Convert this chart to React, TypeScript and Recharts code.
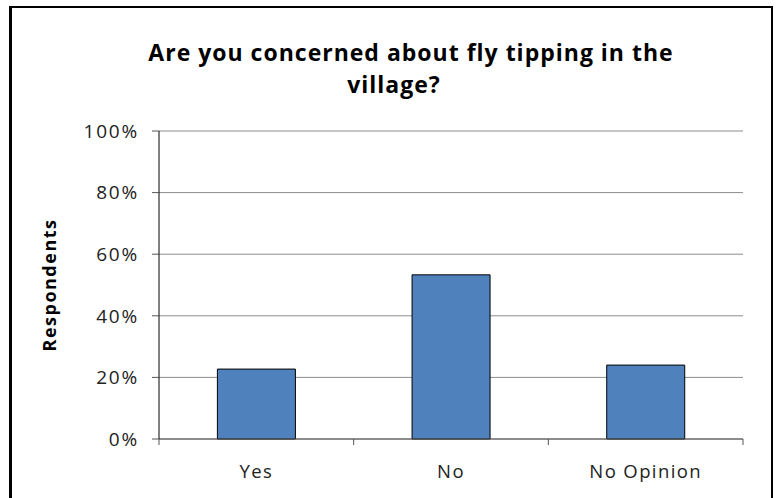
import React from 'react';
import { BarChart, Bar, XAxis, YAxis, CartesianGrid, Label } from 'recharts';

const titleLines = ['Are you concerned about fly tipping in the', 'village?'];
const categories = ['Yes', 'No', 'No Opinion'];
const respondents = [0.227, 0.533, 0.24];
const yTicks = [0, 0.2, 0.4, 0.6, 0.8, 1];
const yAxisTitle = 'Respondents';

const data = categories.map((c, i) => ({ category: c, value: respondents[i] }));

const FONT = '"Open Sans", sans-serif';

function CatTick(props: any) {
  const { x, y, payload, index, visibleTicksCount } = props;
  const half = payload && typeof payload.offset === 'number' && payload.offset > 0 ? payload.offset : 584 / 6;
  const isLast = index === (visibleTicksCount ?? categories.length) - 1;
  return (
    <g>
      <line x1={x - half} y1={y} x2={x - half} y2={y + 6} stroke="#555" strokeWidth={1} />
      {isLast && <line x1={x + half} y1={y} x2={x + half} y2={y + 6} stroke="#555" strokeWidth={1} />}
      <text
        x={x}
        y={y + 39}
        textAnchor="middle"
        fontFamily={FONT}
        fontSize={18.5}
        letterSpacing={1.4}
        fill="#222"
      >
        {payload.value}
      </text>
    </g>
  );
}

export default function App() {
  return (
    <div
      style={{
        position: 'absolute',
        left: 0,
        top: 0,
        width: 778,
        height: 498,
        overflow: 'hidden',
        background: '#fff',
      }}
    >
      <div
        style={{
          position: 'absolute',
          left: 9,
          top: 6,
          width: 759,
          height: 490,
          borderLeft: '3px solid #000',
          borderTop: '2px solid #000',
          borderRight: '2px solid #000',
        }}
      />
      <svg
        width={778}
        height={120}
        style={{ position: 'absolute', left: 0, top: 0 }}
      >
        <text x={411} y={61} textAnchor="middle" fontFamily={FONT} fontWeight="bold" fontSize={23} letterSpacing={1} fill="#000">
          {titleLines[0]}
        </text>
        <text x={394} y={93} textAnchor="middle" fontFamily={FONT} fontWeight="bold" fontSize={23} letterSpacing={1} fill="#000">
          {titleLines[1]}
        </text>
      </svg>
      <div style={{ position: 'absolute', left: 0, top: 0 }}>
        <BarChart
          width={778}
          height={498}
          data={data}
          margin={{ top: 131, right: 35, bottom: 58, left: 0 }}
          barCategoryGap="30%"
        >
          <CartesianGrid vertical={false} stroke="#8c8c8c" strokeWidth={1} />
          <XAxis
            dataKey="category"
            height={1}
            tickLine={false}
            tickSize={0}
            tickMargin={0}
            axisLine={{ stroke: '#555', strokeWidth: 1 }}
            tick={<CatTick />}
            interval={0}
          />
          <YAxis
            width={159}
            domain={[0, 1]}
            ticks={yTicks}
            interval={0}
            tickFormatter={(v: number) => `${Math.round(v * 100)}%`}
            tickSize={7}
            tickMargin={13}
            axisLine={{ stroke: '#000', strokeWidth: 1 }}
            tickLine={{ stroke: '#555', strokeWidth: 1 }}
            tick={{ fontFamily: FONT, fontSize: 19, letterSpacing: 1.8, fill: '#222' }}
          >
            <Label
              value={yAxisTitle}
              angle={-90}
              position="insideLeft"
              offset={50}
              style={{ textAnchor: 'middle', fontFamily: FONT, fontWeight: 'bold', fontSize: 18, letterSpacing: 1.5, fill: '#000' }}
            />
          </YAxis>
          <Bar dataKey="value" fill="#4F81BD" stroke="#000" strokeWidth={1} isAnimationActive={false} />
        </BarChart>
      </div>
    </div>
  );
}
